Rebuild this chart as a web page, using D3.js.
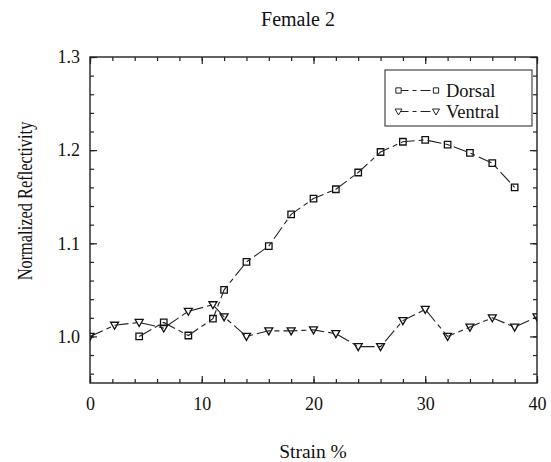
<!DOCTYPE html>
<html>
<head>
<meta charset="utf-8">
<script src="https://cdn.jsdelivr.net/npm/d3@7"></script>
<style>
  body { margin: 0; background: #fff; }
  text { font-family: "Liberation Serif", "Times New Roman", serif; fill: #111; }
</style>
</head>
<body>
<div id="chart"></div>
<script>
// data
var dorsalStrain = [4.4, 6.6, 8.8, 11.0, 12.0, 14.0, 16.0, 18.0, 20.0, 22.0, 24.0, 26.0, 28.0, 30.0, 32.0, 34.0, 36.0, 38.0];
var dorsalValues = [1.000, 1.015, 1.001, 1.019, 1.050, 1.080, 1.097, 1.131, 1.148, 1.158, 1.176, 1.198, 1.209, 1.211, 1.206, 1.197, 1.186, 1.160];
var ventralStrain = [0, 2.2, 4.4, 6.6, 8.8, 11.0, 12.0, 14.0, 16.0, 18.0, 20.0, 22.0, 24.0, 26.0, 28.0, 30.0, 32.0, 34.0, 36.0, 38.0, 40.0];
var ventralValues = [1.000, 1.012, 1.015, 1.009, 1.027, 1.034, 1.021, 1.000, 1.006, 1.006, 1.007, 1.003, 0.989, 0.989, 1.017, 1.029, 1.000, 1.010, 1.020, 1.010, 1.021];
var xTicks = [0, 10, 20, 30, 40];
var yTicks = [1.0, 1.1, 1.2, 1.3];

var svgWidth = 551, svgHeight = 462;
var margin = { top: 57, right: 14, bottom: 79, left: 90 };
var width = 537 - margin.left;
var height = 383 - margin.top;

var svg = d3.select("#chart").append("svg")
  .attr("width", svgWidth)
  .attr("height", svgHeight);

var g = svg.append("g")
  .attr("transform", `translate(${margin.left}, ${margin.top})`);

var x = d3.scaleLinear().domain([0, 40]).range([0, width]);
var y = d3.scaleLinear().domain([0.95, 1.3]).range([height, 0]);

// minor ticks
var xMinor = d3.range(0, 40.01, 2);
var yMinor = d3.range(0.96, 1.3, 0.02);

function styleAxis(sel) {
  sel.select(".domain").remove();
  sel.selectAll("line").attr("stroke", "#222").attr("stroke-width", 1.2);
  sel.selectAll("text").attr("font-size", "18px");
}

// minor ticks (all four sides)
g.append("g").attr("transform", `translate(0, ${height})`)
  .call(d3.axisBottom(x).tickValues(xMinor).tickSize(-4).tickFormat("")).call(styleAxis);
g.append("g")
  .call(d3.axisTop(x).tickValues(xMinor).tickSize(-4).tickFormat("")).call(styleAxis);
g.append("g")
  .call(d3.axisLeft(y).tickValues(yMinor).tickSize(-4).tickFormat("")).call(styleAxis);
g.append("g").attr("transform", `translate(${width}, 0)`)
  .call(d3.axisRight(y).tickValues(yMinor).tickSize(-4).tickFormat("")).call(styleAxis);

// major ticks
g.append("g").attr("transform", `translate(0, ${height})`)
  .call(d3.axisBottom(x).tickValues(xTicks).tickSize(-7).tickPadding(14).tickFormat(d3.format("d")))
  .call(styleAxis);
g.append("g")
  .call(d3.axisTop(x).tickValues(xTicks).tickSize(-7).tickFormat("")).call(styleAxis);
g.append("g")
  .call(d3.axisLeft(y).tickValues(yTicks).tickSize(-7).tickPadding(10).tickFormat(d3.format(".1f")))
  .call(styleAxis);
g.append("g").attr("transform", `translate(${width}, 0)`)
  .call(d3.axisRight(y).tickValues(yTicks).tickSize(-7).tickFormat("")).call(styleAxis);

// frame
g.append("rect")
  .attr("width", width).attr("height", height)
  .attr("fill", "none").attr("stroke", "#222").attr("stroke-width", 1.4);

// clip for series
g.append("clipPath").attr("id", "plotClip")
  .append("rect").attr("width", width).attr("height", height);

var plot = g.append("g").attr("clip-path", "url(#plotClip)");

var line = d3.line()
  .x((d) => x(d[0]))
  .y((d) => y(d[1]));

var dash = "14,4,5,4";
var dorsal = dorsalStrain.map((s, i) => [s, dorsalValues[i]]);
var ventral = ventralStrain.map((s, i) => [s, ventralValues[i]]);

var square = d3.symbol().type(d3.symbolSquare).size(42);
var tri = "M-4,-3L4,-3L0,4Z";

function drawSeries(data, marker) {
  plot.append("g").selectAll("path.mk")
    .data(data).enter()
    .append("path")
    .attr("class", "mk")
    .attr("d", marker)
    .attr("transform", (d) => `translate(${x(d[0])}, ${y(d[1])})`)
    .attr("fill", "none")
    .attr("stroke", "#111")
    .attr("stroke-width", 1.3);

  plot.append("path")
    .datum(data)
    .attr("d", line)
    .attr("fill", "none")
    .attr("stroke", "#222")
    .attr("stroke-width", 1.1)
    .attr("stroke-dasharray", dash);
}

drawSeries(dorsal, square());
drawSeries(ventral, tri);

// legend
var legend = g.append("g");
legend.append("rect")
  .attr("x", 385 - margin.left).attr("y", 70 - margin.top)
  .attr("width", 147).attr("height", 56)
  .attr("fill", "#fff").attr("stroke", "#222").attr("stroke-width", 1);

var legendItems = [
  { name: "Dorsal", marker: d3.symbol().type(d3.symbolSquare).size(28)(), yy: 90.5 },
  { name: "Ventral", marker: "M-3.5,-2.5L3.5,-2.5L0,3.5Z", yy: 111.5 }
];
legendItems.forEach(function (item) {
  var ly = item.yy - margin.top;
  var x0 = 398.5 - margin.left, x1 = 436 - margin.left;
  legend.append("line")
    .attr("x1", x0).attr("x2", x1).attr("y1", ly).attr("y2", ly)
    .attr("stroke", "#222").attr("stroke-width", 1.1)
    .attr("stroke-dasharray", "10,4,4,4");
  [x0, x1].forEach(function (xx) {
    legend.append("path")
      .attr("d", item.marker)
      .attr("transform", `translate(${xx}, ${ly})`)
      .attr("fill", "#fff").attr("stroke", "#222").attr("stroke-width", 1);
  });
  legend.append("text")
    .attr("x", 446 - margin.left).attr("y", ly + 6)
    .attr("font-size", "18.5px")
    .text(item.name);
});

// title and axis labels
svg.append("text")
  .attr("x", 298).attr("y", 26)
  .attr("text-anchor", "middle")
  .attr("font-size", "20px")
  .text("Female 2");

svg.append("text")
  .attr("transform", "translate(32, 201) rotate(-90) scale(0.78, 1)")
  .attr("text-anchor", "middle")
  .attr("font-size", "21px")
  .text("Normalized Reflectivity");

svg.append("text")
  .attr("x", 313).attr("y", 458)
  .attr("text-anchor", "middle")
  .attr("font-size", "19.5px")
  .text("Strain %");
</script>
</body>
</html>
